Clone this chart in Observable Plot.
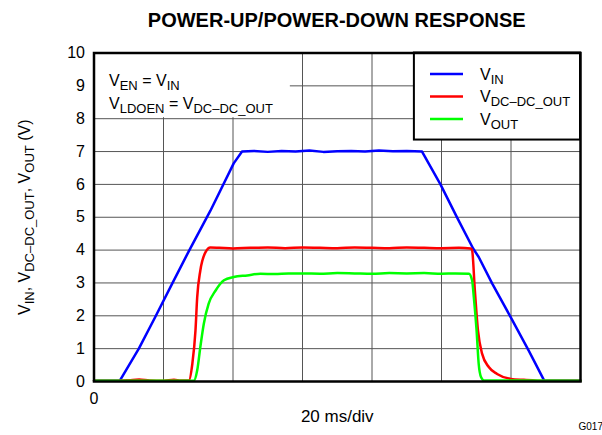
<!DOCTYPE html>
<html>
<head>
<meta charset="utf-8">
<script src="https://cdn.jsdelivr.net/npm/d3@7"></script>
<script src="https://cdn.jsdelivr.net/npm/@observablehq/plot@0.6"></script>
<style>
  body { margin: 0; background: #fff; }
  #wrap { position: relative; width: 602px; height: 435px; font-family: "Liberation Sans", Arial, sans-serif; }
  #title { position: absolute; top: 0; height: 40px; line-height: 40px; text-align: center; font-weight: bold; font-size: 20px; color: #000; white-space: nowrap; }
  #chart { position: absolute; top: 40px; left: 0; }
</style>
</head>
<body>
<div id="wrap">
  <div id="title">POWER-UP/POWER-DOWN RESPONSE</div>
  <div id="chart"></div>
</div>
<script>
// ---- data (time in ms, voltage in V) ----
const tIn  = [0, 7.4, 12.9, 17.7, 22.5, 27.3, 33.5, 40.2, 42.6, 46, 50, 54, 58, 62, 66, 70, 74, 78, 82, 86, 90, 94.4, 99.7, 104.5, 109.1, 110.7, 114.6, 119.9, 125.1, 129.6, 140];
const vIn  = [0.02, 0.02, 1.0, 1.98, 2.98, 3.97, 5.2, 6.64, 7.0, 7.02, 6.99, 7.02, 7.0, 7.03, 6.99, 7.01, 7.02, 7.0, 7.03, 7.01, 7.02, 7.0, 6.0, 4.99, 4.05, 3.79, 2.98, 1.96, 0.94, 0.02, 0.02];

const tDc  = [0, 5, 10, 13, 16, 20, 23, 25, 27.3, 28.3, 29.2, 29.7, 30.6, 32.1, 33.5, 36, 40, 45, 50, 55, 60, 65, 70, 75, 80, 85, 90, 95, 100, 105, 108.4, 108.8, 109.6, 110.5, 111.7, 113.6, 116, 119.9, 123.7, 130, 140];
const vDc  = [0.02, 0.02, 0.04, 0.06, 0.03, 0.02, 0.05, 0.03, 0.03, 0.54, 1.55, 2.57, 3.38, 3.94, 4.08, 4.07, 4.05, 4.07, 4.08, 4.06, 4.08, 4.07, 4.06, 4.08, 4.07, 4.06, 4.08, 4.07, 4.06, 4.07, 4.05, 4.0, 2.77, 1.55, 0.84, 0.44, 0.23, 0.08, 0.05, 0.02, 0.02];

const tOut = [0, 28.7, 29.7, 30.6, 31.6, 33.0, 35.0, 37.4, 40.2, 44.1, 47.9, 52, 56, 60, 65, 70, 75, 80, 85, 90, 95, 100, 104, 107.9, 108.8, 109.3, 110.1, 110.7, 111.4, 112.3, 140];
const vOut = [0.02, 0.02, 0.34, 1.05, 1.76, 2.37, 2.77, 3.08, 3.18, 3.23, 3.28, 3.27, 3.29, 3.29, 3.28, 3.3, 3.29, 3.28, 3.3, 3.29, 3.3, 3.28, 3.29, 3.28, 3.08, 2.57, 1.55, 0.54, 0.13, 0.03, 0.02];

const seriesNames  = ["V[IN]", "V[DC–DC_OUT]", "V[OUT]"];
const seriesColors = ["#0000ff", "#ff0000", "#00ff00"];
const seriesCurves = ["linear", "monotone-x", "monotone-x"];
const seriesT = [tIn, tDc, tOut];
const seriesV = [vIn, vDc, vOut];

const yTicks = d3.range(0, 11, 1);
const xGridTicks = d3.range(0, 141, 20);
const xTickLabels = [0];
const annotationLines = ["V[EN] = V[IN]", "V[LDOEN] = V[DC–DC_OUT]"];
const yLabel = "V[IN], V[DC–DC_OUT], V[OUT] (V)";
const xLabel = "20 ms/div";
const figId = "G017";

// ---- layout ----
const W = 602, H = 395;
const mL = 93.5, mR = 22, mT = 12.5, mB = 54;
const title = document.getElementById("title");
title.style.left = mL + "px";
title.style.width = (W - mL - mR) + "px";

const lineData = seriesNames.map((name, s) => seriesT[s].map((t, i) => ({t, v: seriesV[s][i], name})));

const plot = Plot.plot({
  width: W, height: H,
  marginLeft: mL, marginRight: mR, marginTop: mT, marginBottom: mB,
  style: {fontFamily: "'Liberation Sans', Arial, sans-serif", fontSize: "15px", color: "#000", background: "#fff"},
  x: {domain: [0, 140]},
  y: {domain: [0, 10]},
  marks: [
    Plot.gridY(yTicks, {stroke: "#555", strokeOpacity: 1, strokeWidth: 1}),
    Plot.gridX(xGridTicks, {stroke: "#555", strokeOpacity: 1, strokeWidth: 1}),
    // white annotation panel (covers grid in upper left)
    Plot.rect([0], {x1: 0, x2: 56.5, y1: 8, y2: 10, fill: "white", insetBottom: 1}),
    // legend panel
    Plot.rect([0], {x1: 92.2, x2: 140, y1: 7.35, y2: 10, fill: "white", stroke: "black", strokeWidth: 2}),
    ...lineData.map((d, s) => Plot.line(d, {x: "t", y: "v", stroke: seriesColors[s], strokeWidth: 2.5, curve: seriesCurves[s]})),
    Plot.frame({stroke: "black", strokeWidth: 2.5}),
    Plot.axisY({ticks: yTicks, tickSize: 0, tickPadding: 9, fontSize: 16, label: null}),
    Plot.axisX({ticks: xTickLabels, tickSize: 0, tickPadding: 11, fontSize: 16, label: null}),
    Plot.text([yLabel], {frameAnchor: "left", dx: 24 - mL, rotate: -90, fontSize: 16, textAnchor: "middle"}),
    Plot.text([xLabel], {frameAnchor: "bottom", dy: 40, fontSize: 17}),
    Plot.text([figId], {frameAnchor: "bottom-right", dx: -2, dy: 48, fontSize: 10, textAnchor: "start"}),
    ...annotationLines.map((s, i) => Plot.text([s], {frameAnchor: "top-left", dx: 15, dy: 22 + i * 22.5, fontSize: 16, textAnchor: "start"}))
  ]
});
document.getElementById("chart").appendChild(plot);

// ---- legend rows ----
const svg = d3.select(plot);
const leg = svg.append("g").attr("text-anchor", "start");
seriesNames.forEach((name, i) => {
  const y = mT + 21.5 + i * 22.5;
  leg.append("line").attr("x1", 430).attr("x2", 463).attr("y1", y).attr("y2", y)
    .attr("stroke", seriesColors[i]).attr("stroke-width", 2.5);
  leg.append("text").attr("x", 480).attr("y", y).attr("dy", "0.36em")
    .attr("text-anchor", "start")
    .attr("font-size", 16).attr("fill", "#000").text(name);
});

// ---- subscripts: V[XX] -> V with subscript XX ----
const NS = "http://www.w3.org/2000/svg";
plot.querySelectorAll("text").forEach(el => {
  const s = el.textContent;
  if (!s.includes("[")) return;
  while (el.firstChild) el.removeChild(el.firstChild);
  let shifted = false;
  s.split(/(\[[^\]]*\])/).forEach(p => {
    if (!p) return;
    const ts = document.createElementNS(NS, "tspan");
    if (p.startsWith("[")) {
      ts.textContent = p.slice(1, -1);
      ts.setAttribute("font-size", 13);
      ts.setAttribute("dy", 4);
      shifted = true;
    } else {
      ts.textContent = p;
      if (shifted) { ts.setAttribute("dy", -4); shifted = false; }
    }
    el.appendChild(ts);
  });
});
</script>
</body>
</html>
